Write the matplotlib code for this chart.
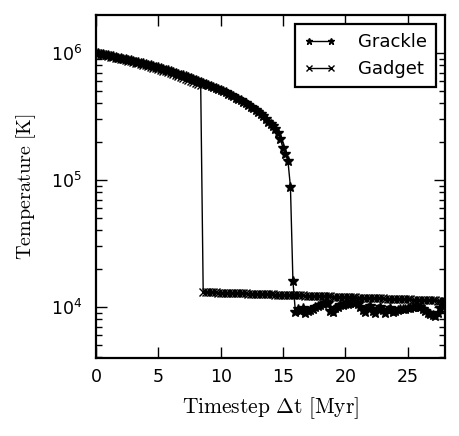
import numpy as np
import matplotlib
matplotlib.use("Agg")
import matplotlib.pyplot as plt

# Timestep grid [Myr]
dt_grackle_hi = np.round(np.arange(0.0, 15.41, 0.2), 2)
grackle_hi = [
    1.000e6, 9.91e5, 9.82e5, 9.73e5, 9.64e5, 9.55e5, 9.46e5, 9.38e5, 9.29e5, 9.20e5,
    9.12e5, 9.02e5, 8.93e5, 8.83e5, 8.73e5, 8.65e5, 8.55e5, 8.45e5, 8.36e5, 8.28e5,
    8.19e5, 8.09e5, 7.98e5, 7.89e5, 7.78e5, 7.69e5, 7.59e5, 7.50e5, 7.40e5, 7.31e5,
    7.21e5, 7.10e5, 6.98e5, 6.87e5, 6.76e5, 6.65e5, 6.53e5, 6.43e5, 6.32e5, 6.22e5,
    6.12e5, 6.01e5, 5.90e5, 5.81e5, 5.70e5, 5.60e5, 5.50e5, 5.40e5, 5.31e5, 5.21e5,
    5.12e5, 5.00e5, 4.89e5, 4.78e5, 4.66e5, 4.55e5, 4.44e5, 4.34e5, 4.23e5, 4.13e5,
    4.04e5, 3.91e5, 3.78e5, 3.66e5, 3.54e5, 3.43e5, 3.29e5, 3.16e5, 3.01e5, 2.88e5,
    2.75e5, 2.66e5, 2.51e5, 2.34e5, 2.09e5, 1.78e5, 1.59e5, 1.41e5,
]
dt_grackle_lo = np.round(np.arange(15.6, 28.01, 0.2), 2)
grackle_lo = [
    8.81e4, 1.59e4, 9.1e3, 9.6e3, 9.3e3, 9.8e3, 9.0e3, 9.3e3, 9.5e3, 9.7e3,
    9.9e3, 1.01e4, 1.03e4, 1.05e4, 1.07e4, 1.08e4, 9.3e3, 9.2e3, 9.8e3, 1.00e4,
    1.03e4, 1.04e4, 1.05e4, 1.06e4, 1.08e4, 1.10e4, 1.08e4, 1.05e4, 1.00e4, 9.5e3,
    9.2e3, 9.8e3, 1.02e4, 9.3e3, 8.9e3, 9.6e3, 1.00e4, 9.4e3, 8.9e3, 9.5e3,
    9.8e3, 9.2e3, 9.3e3, 9.5e3, 9.6e3, 9.7e3, 9.7e3, 9.8e3, 9.8e3, 9.9e3,
    1.00e4, 1.00e4, 1.00e4, 9.6e3, 9.3e3, 9.0e3, 8.8e3, 8.6e3, 8.5e3, 9.0e3,
    9.8e3, 1.02e4, 1.03e4,
]

dt_gadget_hi = np.round(np.arange(0.0, 8.41, 0.2), 2)
gadget_hi = [
    1.000e6, 9.88e5, 9.78e5, 9.67e5, 9.57e5, 9.47e5, 9.37e5, 9.27e5, 9.18e5, 9.08e5,
    8.99e5, 8.88e5, 8.79e5, 8.68e5, 8.58e5, 8.48e5, 8.38e5, 8.28e5, 8.18e5, 8.09e5,
    7.99e5, 7.89e5, 7.78e5, 7.68e5, 7.57e5, 7.47e5, 7.37e5, 7.27e5, 7.16e5, 7.06e5,
    6.96e5, 6.85e5, 6.74e5, 6.62e5, 6.51e5, 6.40e5, 6.28e5, 6.17e5, 6.06e5, 5.94e5,
    5.83e5, 5.71e5, 5.55e5,
]
dt_gadget_lo = np.round(np.arange(8.6, 28.01, 0.2), 2)
gadget_lo = [
    13100, 13080, 13060, 13040, 13020, 13000, 12980, 12960, 12940, 12920,
    12900, 12880, 12860, 12840, 12820, 12800, 12780, 12760, 12740, 12720,
    12700, 12680, 12660, 12640, 12620, 12600, 12580, 12560, 12540, 12520,
    12500, 12480, 12460, 12440, 12420, 12400, 12380, 12360, 12340, 12320,
    12300, 12280, 12260, 12240, 12220, 12200, 12180, 12160, 12140, 12120,
    12100, 12080, 12060, 12040, 12020, 12000, 11980, 11960, 11940, 11920,
    11900, 11880, 11860, 11840, 11820, 11800, 11780, 11760, 11740, 11720,
    11700, 11680, 11660, 11640, 11620, 11600, 11580, 11560, 11540, 11520,
    11500, 11480, 11460, 11440, 11420, 11400, 11380, 11360, 11340, 11320,
    11300, 11280, 11260, 11240, 11220, 11200, 11180, 11160,
]

dt_grackle = np.concatenate([dt_grackle_hi, dt_grackle_lo])
T_grackle = np.array(grackle_hi + grackle_lo)
dt_gadget = np.concatenate([dt_gadget_hi, dt_gadget_lo])
T_gadget = np.array(gadget_hi + gadget_lo)

plt.rcParams['mathtext.fontset'] = 'cm'
plt.rcParams['font.family'] = ['DejaVu Sans']

fig = plt.figure(figsize=(4.6, 4.36), dpi=100)
ax = fig.add_axes([0.2087, 0.1789, 0.7587, 0.7867])

ax.plot(dt_grackle, T_grackle, color='black', lw=1.0, marker='*', ms=7,
        label='Grackle')
ax.plot(dt_gadget, T_gadget, color='black', lw=1.0, marker='x', ms=5.5,
        mew=1.0, label='Gadget')

ax.set_yscale('log')
ax.set_xlim(0, 28)
ax.set_ylim(3.96e3, 1.99e6)
ax.set_xticks([0, 5, 10, 15, 20, 25])

for s in ax.spines.values():
    s.set_linewidth(1.6)
ax.tick_params(which='both', direction='in', top=True, right=True,
               labelsize=12.5, width=1.0)
ax.tick_params(which='major', length=8)
ax.tick_params(which='minor', length=4)
ax.tick_params(axis='x', which='major', pad=7)
ax.tick_params(axis='y', which='major', pad=10)

ax.set_xlabel(r'$\mathrm{Timestep\ \Delta t\ [Myr]}$', fontsize=15.5, labelpad=7)
ax.set_ylabel(r'$\mathrm{Temperature\ [K]}$', fontsize=14.5, labelpad=9)

leg = ax.legend(loc='upper right', numpoints=2, fontsize=13, fancybox=False,
                framealpha=1, borderaxespad=0.5, handlelength=1.8,
                handletextpad=1.2, borderpad=0.5)
leg.get_frame().set_edgecolor('black')
leg.get_frame().set_linewidth(1.6)
for h in leg.legend_handles:
    h.set_markersize(5)

fig.savefig('out.png', dpi=100)
